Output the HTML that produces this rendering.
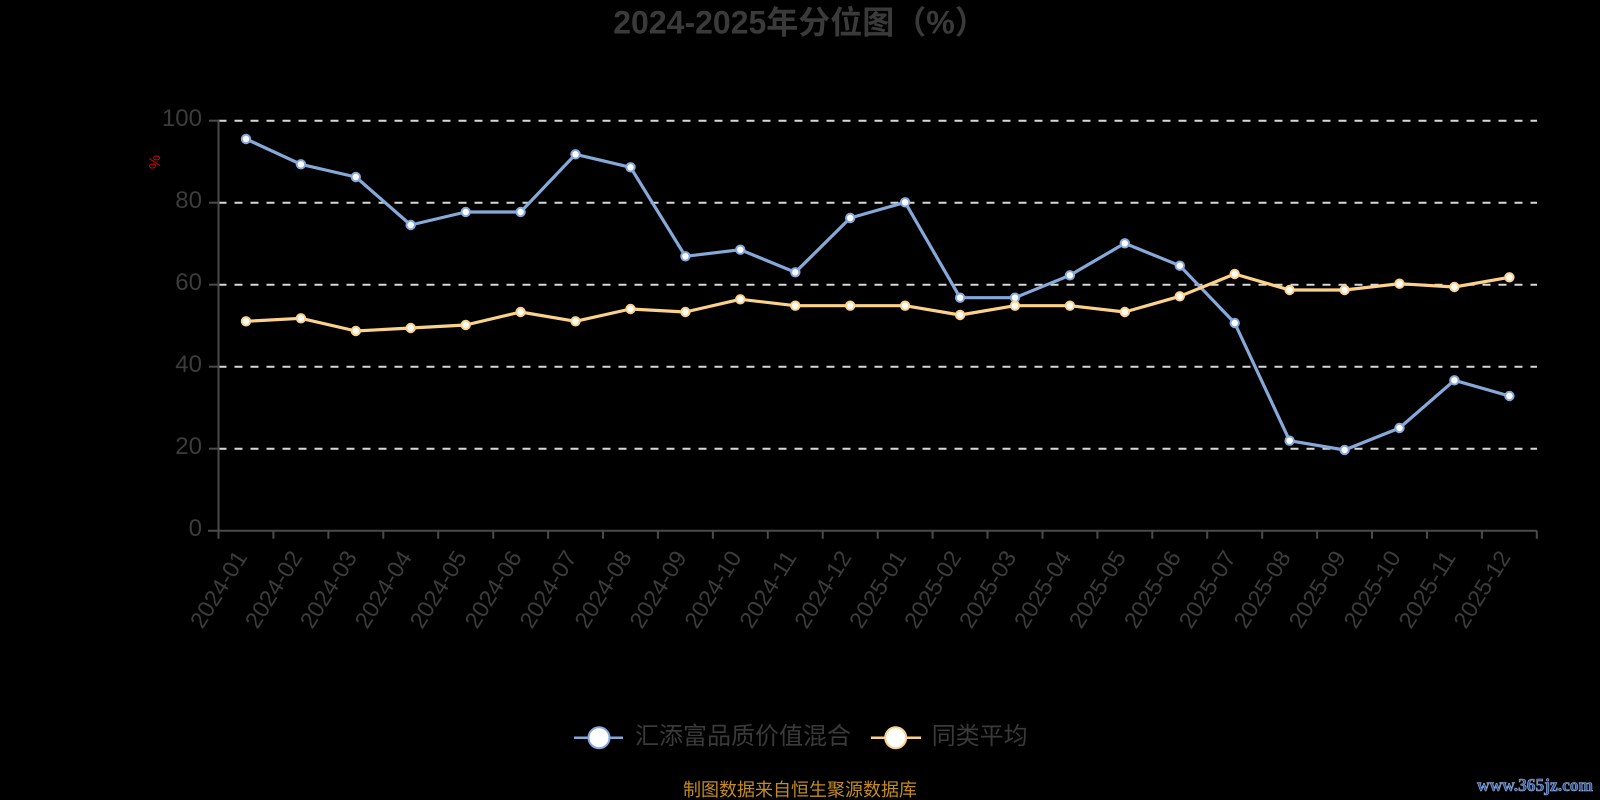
<!DOCTYPE html>
<html><head><meta charset="utf-8"><style>
html,body{margin:0;padding:0;background:#000;}
svg{display:block;}
text{font-family:"Liberation Sans","Noto Sans CJK SC",sans-serif;}
</style></head><body>
<svg width="1600" height="800" viewBox="0 0 1600 800" xmlns="http://www.w3.org/2000/svg">
<rect width="1600" height="800" fill="#000"/>
<text x="800" y="33.5" text-anchor="middle" font-size="32" font-weight="bold" fill="#3a3a3a">2024-2025年分位图（%）</text>

<g stroke="#d8d8d8" stroke-width="2" stroke-dasharray="8 8">
<line x1="218.5" y1="120.7" x2="1537" y2="120.7"/>
<line x1="218.5" y1="202.7" x2="1537" y2="202.7"/>
<line x1="218.5" y1="284.7" x2="1537" y2="284.7"/>
<line x1="218.5" y1="366.7" x2="1537" y2="366.7"/>
<line x1="218.5" y1="448.7" x2="1537" y2="448.7"/>
</g>

<g stroke="#4a4a4a" stroke-width="2">
<line x1="218.5" y1="120" x2="218.5" y2="531"/>
<line x1="208" y1="530.7" x2="1537" y2="530.7"/>
<line x1="209" y1="120.7" x2="218.5" y2="120.7"/>
<line x1="209" y1="202.7" x2="218.5" y2="202.7"/>
<line x1="209" y1="284.7" x2="218.5" y2="284.7"/>
<line x1="209" y1="366.7" x2="218.5" y2="366.7"/>
<line x1="209" y1="448.7" x2="218.5" y2="448.7"/>
<path d="M218.5 530.7v8M273.4 530.7v8M328.4 530.7v8M383.3 530.7v8M438.2 530.7v8M493.2 530.7v8M548.1 530.7v8M603 530.7v8M657.9 530.7v8M712.9 530.7v8M767.8 530.7v8M822.7 530.7v8M877.7 530.7v8M932.6 530.7v8M987.5 530.7v8M1042.5 530.7v8M1097.4 530.7v8M1152.3 530.7v8M1207.2 530.7v8M1262.2 530.7v8M1317.1 530.7v8M1372 530.7v8M1427 530.7v8M1481.9 530.7v8M1536.8 530.7v8" fill="none"/>
</g>

<g font-size="24" fill="#3c3c3c" text-anchor="end">
<text x="202" y="126">100</text>
<text x="202" y="208">80</text>
<text x="202" y="290">60</text>
<text x="202" y="372">40</text>
<text x="202" y="454">20</text>
<text x="202" y="536">0</text>
</g>

<text x="155.5" y="162" font-size="16" fill="#d00000" text-anchor="middle" dominant-baseline="central" transform="rotate(-90 155.5 162)">%</text>

<g font-size="23" fill="#3c3c3c" text-anchor="end">
<text x="248" y="557" textLength="86" lengthAdjust="spacingAndGlyphs" transform="rotate(-58 248 557)">2024-01</text>
<text x="302.9" y="557" textLength="86" lengthAdjust="spacingAndGlyphs" transform="rotate(-58 302.9 557)">2024-02</text>
<text x="357.8" y="557" textLength="86" lengthAdjust="spacingAndGlyphs" transform="rotate(-58 357.8 557)">2024-03</text>
<text x="412.7" y="557" textLength="86" lengthAdjust="spacingAndGlyphs" transform="rotate(-58 412.7 557)">2024-04</text>
<text x="467.7" y="557" textLength="86" lengthAdjust="spacingAndGlyphs" transform="rotate(-58 467.7 557)">2024-05</text>
<text x="522.6" y="557" textLength="86" lengthAdjust="spacingAndGlyphs" transform="rotate(-58 522.6 557)">2024-06</text>
<text x="577.5" y="557" textLength="86" lengthAdjust="spacingAndGlyphs" transform="rotate(-58 577.5 557)">2024-07</text>
<text x="632.5" y="557" textLength="86" lengthAdjust="spacingAndGlyphs" transform="rotate(-58 632.5 557)">2024-08</text>
<text x="687.4" y="557" textLength="86" lengthAdjust="spacingAndGlyphs" transform="rotate(-58 687.4 557)">2024-09</text>
<text x="742.3" y="557" textLength="86" lengthAdjust="spacingAndGlyphs" transform="rotate(-58 742.3 557)">2024-10</text>
<text x="797.3" y="557" textLength="86" lengthAdjust="spacingAndGlyphs" transform="rotate(-58 797.3 557)">2024-11</text>
<text x="852.2" y="557" textLength="86" lengthAdjust="spacingAndGlyphs" transform="rotate(-58 852.2 557)">2024-12</text>
<text x="907.1" y="557" textLength="86" lengthAdjust="spacingAndGlyphs" transform="rotate(-58 907.1 557)">2025-01</text>
<text x="962.1" y="557" textLength="86" lengthAdjust="spacingAndGlyphs" transform="rotate(-58 962.1 557)">2025-02</text>
<text x="1017" y="557" textLength="86" lengthAdjust="spacingAndGlyphs" transform="rotate(-58 1017 557)">2025-03</text>
<text x="1071.9" y="557" textLength="86" lengthAdjust="spacingAndGlyphs" transform="rotate(-58 1071.9 557)">2025-04</text>
<text x="1126.8" y="557" textLength="86" lengthAdjust="spacingAndGlyphs" transform="rotate(-58 1126.8 557)">2025-05</text>
<text x="1181.8" y="557" textLength="86" lengthAdjust="spacingAndGlyphs" transform="rotate(-58 1181.8 557)">2025-06</text>
<text x="1236.7" y="557" textLength="86" lengthAdjust="spacingAndGlyphs" transform="rotate(-58 1236.7 557)">2025-07</text>
<text x="1291.6" y="557" textLength="86" lengthAdjust="spacingAndGlyphs" transform="rotate(-58 1291.6 557)">2025-08</text>
<text x="1346.6" y="557" textLength="86" lengthAdjust="spacingAndGlyphs" transform="rotate(-58 1346.6 557)">2025-09</text>
<text x="1401.5" y="557" textLength="86" lengthAdjust="spacingAndGlyphs" transform="rotate(-58 1401.5 557)">2025-10</text>
<text x="1456.4" y="557" textLength="86" lengthAdjust="spacingAndGlyphs" transform="rotate(-58 1456.4 557)">2025-11</text>
<text x="1511.4" y="557" textLength="86" lengthAdjust="spacingAndGlyphs" transform="rotate(-58 1511.4 557)">2025-12</text>
</g>

<polyline fill="none" stroke="#86a9da" stroke-width="3.2" stroke-linejoin="round" points="246,139 300.9,164.3 355.8,177 410.7,225 465.7,212 520.6,212 575.5,154.3 630.5,167.3 685.4,256.3 740.3,249.7 795.3,272.3 850.2,218 905.1,202.3 960.1,297.7 1015,297.7 1069.9,275.3 1124.8,243.3 1179.8,265.7 1234.7,323 1289.6,440.7 1344.6,450 1399.5,428 1454.4,380.3 1509.4,396"/>
<g fill="#fff" stroke="#86a9da" stroke-width="2">
<circle cx="246" cy="139" r="4.2"/><circle cx="300.9" cy="164.3" r="4.2"/><circle cx="355.8" cy="177" r="4.2"/><circle cx="410.7" cy="225" r="4.2"/><circle cx="465.7" cy="212" r="4.2"/><circle cx="520.6" cy="212" r="4.2"/><circle cx="575.5" cy="154.3" r="4.2"/><circle cx="630.5" cy="167.3" r="4.2"/><circle cx="685.4" cy="256.3" r="4.2"/><circle cx="740.3" cy="249.7" r="4.2"/><circle cx="795.3" cy="272.3" r="4.2"/><circle cx="850.2" cy="218" r="4.2"/><circle cx="905.1" cy="202.3" r="4.2"/><circle cx="960.1" cy="297.7" r="4.2"/><circle cx="1015" cy="297.7" r="4.2"/><circle cx="1069.9" cy="275.3" r="4.2"/><circle cx="1124.8" cy="243.3" r="4.2"/><circle cx="1179.8" cy="265.7" r="4.2"/><circle cx="1234.7" cy="323" r="4.2"/><circle cx="1289.6" cy="440.7" r="4.2"/><circle cx="1344.6" cy="450" r="4.2"/><circle cx="1399.5" cy="428" r="4.2"/><circle cx="1454.4" cy="380.3" r="4.2"/><circle cx="1509.4" cy="396" r="4.2"/>
</g>

<polyline fill="none" stroke="#fcd28a" stroke-width="3.2" stroke-linejoin="round" points="246,321.3 300.9,318.3 355.8,331 410.7,328 465.7,325 520.6,312 575.5,321.3 630.5,309 685.4,312 740.3,299.3 795.3,305.7 850.2,305.7 905.1,305.7 960.1,315 1015,305.7 1069.9,305.7 1124.8,312 1179.8,296.3 1234.7,274 1289.6,290 1344.6,290 1399.5,283.7 1454.4,287 1509.4,277.3"/>
<g fill="#fff" stroke="#fcd28a" stroke-width="2">
<circle cx="246" cy="321.3" r="4.2"/><circle cx="300.9" cy="318.3" r="4.2"/><circle cx="355.8" cy="331" r="4.2"/><circle cx="410.7" cy="328" r="4.2"/><circle cx="465.7" cy="325" r="4.2"/><circle cx="520.6" cy="312" r="4.2"/><circle cx="575.5" cy="321.3" r="4.2"/><circle cx="630.5" cy="309" r="4.2"/><circle cx="685.4" cy="312" r="4.2"/><circle cx="740.3" cy="299.3" r="4.2"/><circle cx="795.3" cy="305.7" r="4.2"/><circle cx="850.2" cy="305.7" r="4.2"/><circle cx="905.1" cy="305.7" r="4.2"/><circle cx="960.1" cy="315" r="4.2"/><circle cx="1015" cy="305.7" r="4.2"/><circle cx="1069.9" cy="305.7" r="4.2"/><circle cx="1124.8" cy="312" r="4.2"/><circle cx="1179.8" cy="296.3" r="4.2"/><circle cx="1234.7" cy="274" r="4.2"/><circle cx="1289.6" cy="290" r="4.2"/><circle cx="1344.6" cy="290" r="4.2"/><circle cx="1399.5" cy="283.7" r="4.2"/><circle cx="1454.4" cy="287" r="4.2"/><circle cx="1509.4" cy="277.3" r="4.2"/>
</g>

<!-- legend -->
<line x1="574" y1="737.7" x2="623" y2="737.7" stroke="#86a9da" stroke-width="2.5"/>
<circle cx="599" cy="737.7" r="10.5" fill="#fff" stroke="#86a9da" stroke-width="2"/>
<text x="635" y="744" font-size="24" fill="#3a3a3a">汇添富品质价值混合</text>
<line x1="871" y1="737.7" x2="921" y2="737.7" stroke="#fcd28a" stroke-width="2.5"/>
<circle cx="895.7" cy="737.7" r="10.5" fill="#fff" stroke="#fcd28a" stroke-width="2"/>
<text x="931.7" y="744" font-size="24" fill="#3a3a3a">同类平均</text>

<text x="800" y="796" text-anchor="middle" font-size="18" fill="#c48c1e">制图数据来自恒生聚源数据库</text>

<text x="1477" y="791" style="font-family:'Liberation Serif',serif" font-size="18" font-weight="bold" fill="#2b57a3" stroke="#9fb5dc" stroke-width="0.6" textLength="116" lengthAdjust="spacingAndGlyphs">www.365jz.com</text>
</svg>
</body></html>
